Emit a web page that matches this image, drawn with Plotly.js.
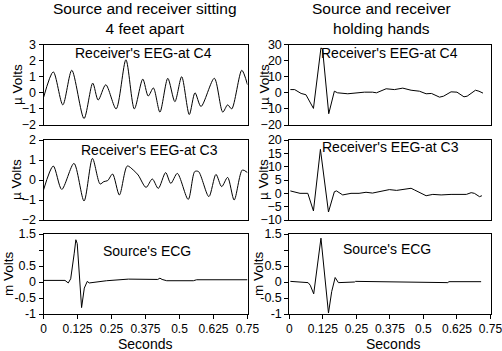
<!DOCTYPE html>
<html><head><meta charset="utf-8">
<script src="https://cdn.plot.ly/plotly-3.0.1.min.js"></script>
<style>html,body{margin:0;padding:0;background:#fff}#c{width:502px;height:351px}</style>
</head><body><div id="c"></div>
<script>
// Left column: source and receiver sitting 4 feet apart
const tL_C4 = [0,0.036,0.071,0.104,0.149,0.181,0.201,0.229,0.267,0.303,0.334,0.365,0.385,0.404,0.428,0.457,0.483,0.508,0.536,0.557,0.579,0.628,0.659,0.677,0.692,0.729,0.75];
const vL_C4 = [-0.3,1.3,-0.75,1.4,-1.6,0.6,-0.45,0.5,-1.0,2.05,-1.0,0.85,-0.2,0.3,-1.2,0.9,-0.55,1.0,-1.35,0.0,-0.85,0.9,-1.2,-0.75,-1.0,1.4,0.5];
const tL_C3 = [0,0.036,0.067,0.112,0.149,0.18,0.208,0.222,0.236,0.254,0.279,0.308,0.33,0.348,0.377,0.4,0.422,0.449,0.468,0.492,0.532,0.556,0.57,0.608,0.634,0.655,0.677,0.701,0.731,0.75];
const vL_C3 = [-0.5,0.7,-0.47,0.83,-1.05,1.08,-0.2,-0.08,-0.03,0.3,-0.75,0.7,0.5,0.25,-0.37,0.05,-0.42,0.37,-0.17,0.33,-0.97,0.42,0.42,-0.83,0.28,-0.33,0.13,-1.0,0.5,0.37];
const tL_ECG = [0,0.079,0.091,0.1,0.113,0.119,0.124,0.133,0.140,0.150,0.161,0.168,0.196,0.232,0.312,0.377,0.42,0.428,0.436,0.453,0.551,0.563,0.75];
const vL_ECG = [0.05,0.05,-0.03,0.1,0.9,1.32,1.2,0.1,-0.8,-0.19,0.02,-0.03,0.0,0.04,0.09,0.09,0.08,0.12,0.08,0.04,0.04,0.07,0.07];
// Right column: source and receiver holding hands
const tR_C4 = [0.004,0.02,0.044,0.062,0.090,0.118,0.124,0.147,0.168,0.18,0.218,0.28,0.31,0.325,0.361,0.392,0.423,0.454,0.485,0.51,0.53,0.56,0.575,0.603,0.625,0.651,0.663,0.694,0.707,0.722];
const vR_C4 = [2.0,2.0,-0.4,-1.2,-9.7,27.9,27,-13,1.0,0,-0.6,0.4,0.4,0,2.5,2.0,2.9,1.6,1.0,-0.6,-0.4,-2.7,-2.1,0.6,0.4,-2.5,-2.1,1.6,1.0,-0.2];
const tR_C3 = [0.004,0.02,0.04,0.069,0.090,0.116,0.146,0.168,0.176,0.199,0.23,0.26,0.286,0.31,0.355,0.373,0.40,0.429,0.454,0.467,0.485,0.51,0.535,0.566,0.603,0.66,0.678,0.69,0.709,0.718];
const vR_C3 = [0.9,0.6,0,0,-6.6,16.5,-7.0,0.6,0.9,-0.6,0,0,0.4,0.1,0.9,1.4,1.1,1.6,1.9,1.25,0.25,-0.9,-0.4,-0.6,-0.4,-0.4,0.25,0,-1.25,-0.9];
const tR_ECG = [0.004,0.03,0.044,0.07,0.078,0.091,0.118,0.146,0.158,0.171,0.183,0.2,0.243,0.247,0.466,0.47,0.591,0.595,0.715];
const vR_ECG = [0.02,0.0,-0.02,-0.02,-0.1,-0.37,1.37,-0.97,-0.3,0.14,-0.02,-0.02,0.0,0.02,0.0,-0.02,-0.02,0.01,0.01];

const xTicks = [0,0.125,0.25,0.375,0.5,0.625,0.75];
const xTickText = ["0","0.125","0.25","0.375","0.5","0.625","0.75"];
const ecgTicks = [-1,-0.5,0,0.5,1,1.5];
const ecgTickText = ["-1","-0.5","0","0.5","","1.5"];

const titleLeft = "Source and receiver sitting<br>4 feet apart";
const titleRight = "Source and receiver<br>holding hands";
const labelC4 = "Receiver's EEG-at C4";
const labelC3 = "Receiver's EEG-at C3";
const labelECG = "Source's ECG";

const W=502,H=351;
const FONT = "Liberation Sans, Arial, sans-serif";
const line = {color:'black', width:1};

function tr(t,v,xa,ya,shape){return {x:t,y:v,xaxis:xa,yaxis:ya,mode:'lines',line:Object.assign({shape:shape||'linear',smoothing:0.8},line),hoverinfo:'skip',showlegend:false};}

const data = [
  tr(tL_C4,vL_C4,'x','y','spline'),
  tr(tL_C3,vL_C3,'x2','y2','spline'),
  tr(tL_ECG,vL_ECG,'x3','y3'),
  tr(tR_C4,vR_C4,'x4','y4'),
  tr(tR_C3,vR_C3,'x5','y5'),
  tr(tR_ECG,vR_ECG,'x6','y6'),
];

const xl=[43.5/W,247.5/W], xr=[289.3/W,490.5/W];
const r1=[1-125/H,1-44.5/H], r2=[1-220/H,1-140/H], r3=[1-314/H,1-234/H];

function xa(dom,anchor,showT){
  return {domain:dom,anchor:anchor,range:[0,0.75],showline:true,linecolor:'black',linewidth:1,mirror:true,
    showgrid:false,zeroline:false,ticks:showT?'outside':'',ticklen:4,tickcolor:'black',ticklabeloverflow:'allow',
    tickvals:xTicks,ticktext:xTickText,showticklabels:showT,tickfont:{family:FONT,size:12,color:'black'}};
}
function ya(dom,anchor,range,tv,tt){
  const o={domain:dom,anchor:anchor,range:range,showline:true,linecolor:'black',linewidth:1,mirror:true,
    showgrid:false,zeroline:false,ticks:'outside',ticklen:4,tickcolor:'black',tickvals:tv,ticklabeloverflow:'allow',
    tickfont:{family:FONT,size:12.5,color:'black'}};
  if(tt) o.ticktext=tt;
  return o;
}

const layout = {
  width:W,height:H,margin:{l:0,r:0,t:0,b:0},paper_bgcolor:'white',plot_bgcolor:'white',
  font:{family:FONT,color:'black'},
  xaxis:xa(xl,'y',false), yaxis:ya(r1,'x',[-2,3],[-2,-1,0,1,2,3]),
  xaxis2:xa(xl,'y2',false), yaxis2:ya(r2,'x2',[-2,2],[-2,-1,0,1,2]),
  xaxis3:xa(xl,'y3',true), yaxis3:ya(r3,'x3',[-1,1.5],ecgTicks,ecgTickText),
  xaxis4:xa(xr,'y4',false), yaxis4:ya(r1,'x4',[-20,30],[-20,-10,0,10,20,30]),
  xaxis5:xa(xr,'y5',false), yaxis5:ya(r2,'x5',[-10,20],[-10,-5,0,5,10,15,20]),
  xaxis6:xa(xr,'y6',true), yaxis6:ya(r3,'x6',[-1,1.5],ecgTicks,ecgTickText),
  annotations:[]
};
function ann(text,px,py,size,angle){
  layout.annotations.push({text:text,x:px/W,y:1-py/H,xref:'paper',yref:'paper',xanchor:'center',yanchor:'middle',
    showarrow:false,textangle:angle||0,font:{family:FONT,size:size,color:'black'}});
}
ann(titleLeft,145,19,15.5);
ann(titleRight,381,19,15.5);
ann(labelC4,143,53,14); ann(labelC4,389,53,14);
ann(labelC3,149,150,14); ann(labelC3,390,147,14);
ann(labelECG,147,251,14); ann(labelECG,387,249,14);
ann("µ Volts",17,85,13.5,-90); ann("µ Volts",17,180,13.5,-90); ann("m Volts",8,274,13.5,-90);
ann("µ Volts",264,85,13.5,-90); ann("µ Volts",264,180,13.5,-90); ann("m Volts",258,274,13.5,-90);
ann("Seconds",145,344,14); ann("Seconds",393,344,14);

Plotly.newPlot('c',data,layout,{staticPlot:true});
</script></body></html>
